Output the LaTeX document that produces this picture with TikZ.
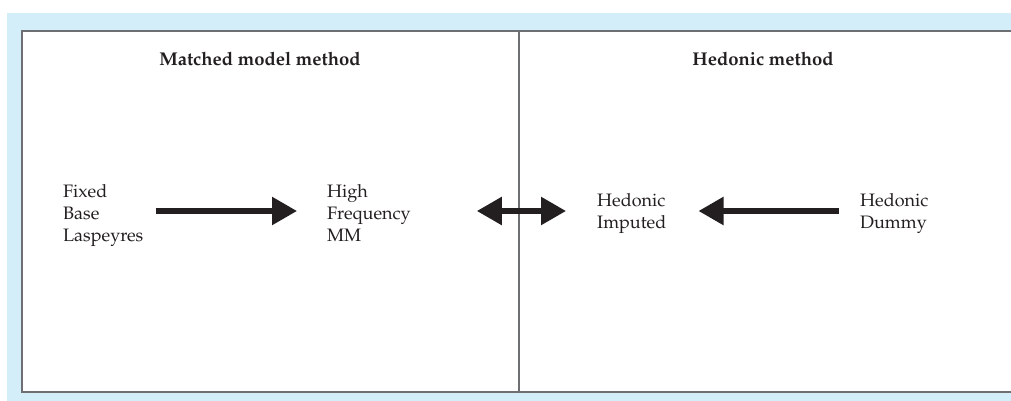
\documentclass[tikz,border=0pt]{standalone}
\usepackage[T1]{fontenc}
\usepackage{mathpazo}
\usetikzlibrary{arrows.meta}
\definecolor{bandblue}{RGB}{212,238,249}
\definecolor{frame}{RGB}{110,111,115}
\definecolor{ink}{RGB}{35,31,32}
\tikzset{
  lbl/.style={inner sep=0pt, align=left, anchor=north west, text=ink, font=\fontsize{18}{22}\selectfont},
  ttl/.style={inner sep=0pt, anchor=base, text=ink, font=\fontsize{18.5}{23}\selectfont\bfseries},
  bigarrow/.style={draw=ink, line width=5.5pt, -{Triangle[length=25pt,width=27pt]}},
  dblarrow/.style={draw=ink, line width=5.5pt, {Triangle[length=25pt,width=27pt]}-{Triangle[length=25pt,width=27pt]}},
}
\begin{document}
\begin{tikzpicture}[x=1pt,y=-1pt]
\useasboundingbox (0,0) rectangle (1011,401);
\fill[white] (0,0) rectangle (1011,401);
\fill[bandblue] (7,13) rectangle (1011,401);
\fill[white] (22,31) rectangle (1011,392);
\draw[frame, line width=1.8pt] (1015,31) -- (22,31) -- (22,392) -- (1015,392);
\draw[frame, line width=1.5pt] (519,31) -- (519,392);
\node[ttl] (t1) at (260,66) {Matched model method};
\node[ttl] (t2) at (763,66) {Hedonic method};
\node[lbl] (fixed) at (63,184) {Fixed\\Base\\Laspeyres};
\node[lbl] (high) at (327,184) {High\\Frequency\\MM};
\node[lbl] (imp) at (597,193) {Hedonic\\Imputed};
\node[lbl] (dum) at (860,193) {Hedonic\\Dummy};
\coordinate (row) at (0,211);
\draw[bigarrow, shorten <=12pt, shorten >=30pt] (fixed.east |- row) -- (high.west |- row);
\draw[dblarrow, shorten <=66pt, shorten >=31pt] (high.east |- row) -- (imp.west |- row);
\draw[bigarrow, shorten <=21pt, shorten >=32pt] (dum.west |- row) -- (imp.east |- row);
\end{tikzpicture}
\end{document}
